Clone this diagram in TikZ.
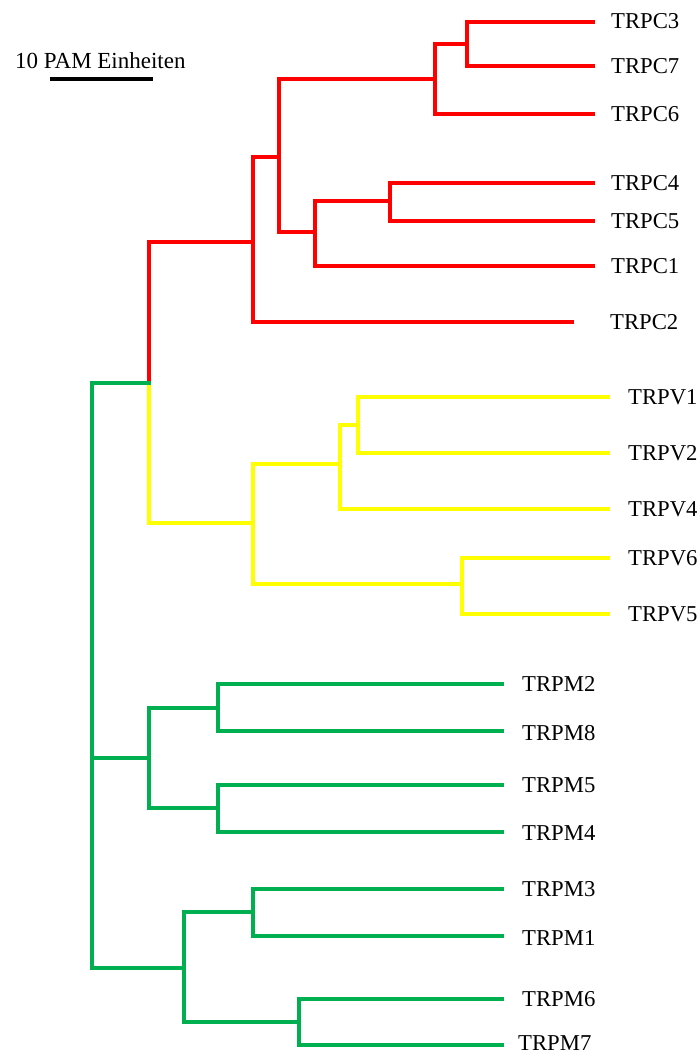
\documentclass[tikz,border=0pt]{standalone}
\usepackage{fontspec}
\setmainfont{Liberation Serif}
\definecolor{tgreen}{HTML}{00B050}
\definecolor{tred}{HTML}{FF0000}
\definecolor{tyellow}{HTML}{FFFF00}
\begin{document}
\begin{tikzpicture}[x=1pt,y=-1pt,
  br/.style={line width=4.5pt,line cap=rect,line join=miter},
  lbl/.style={anchor=west,inner sep=0pt,font=\fontsize{22.7}{25}\selectfont}]
\useasboundingbox (0,0) rectangle (699,1057);
% scale bar
\node[anchor=base west,inner sep=0pt,font=\fontsize{23}{25}\selectfont] (scl) at (15,68) {10 PAM Einheiten};
\coordinate (sa) at (50,79);
\coordinate (sb) at (153,79);
\draw[line width=4.5pt] (sa) -- (sb);
% internal nodes
\coordinate (root) at (92,675);
\coordinate (cv) at (149,383);
\coordinate (cb) at (253,242);
\coordinate (ca) at (279,157);
\coordinate (c376) at (435,79);
\coordinate (c37) at (467,44);
\coordinate (c451) at (315,232);
\coordinate (c45) at (390,201);
\coordinate (vv) at (253,523);
\coordinate (v124) at (340,464);
\coordinate (v12) at (358,425);
\coordinate (v65) at (462,584);
\coordinate (m1) at (149,758);
\coordinate (m28) at (218,708);
\coordinate (m54) at (218,808);
\coordinate (m2) at (184,968);
\coordinate (m31) at (253,912);
\coordinate (m67) at (299,1022);
% leaf ends
\coordinate (C3) at (593,22);
\coordinate (C7) at (593,66);
\coordinate (C6) at (593,114);
\coordinate (C4) at (593,183);
\coordinate (C5) at (593,221);
\coordinate (C1) at (593,266);
\coordinate (C2) at (572,322);
\coordinate (V1) at (608,397);
\coordinate (V2) at (608,453);
\coordinate (V4) at (608,509);
\coordinate (V6) at (608,558);
\coordinate (V5) at (608,614);
\coordinate (M2) at (502,684);
\coordinate (M8) at (502,731);
\coordinate (M5) at (502,785);
\coordinate (M4) at (502,832);
\coordinate (M3) at (502,889);
\coordinate (M1) at (502,936);
\coordinate (M6) at (502,999);
\coordinate (M7) at (502,1045);
% labels
\node[lbl] (lC3) at (611,21) {TRPC3};
\node[lbl] (lC7) at (611,66) {TRPC7};
\node[lbl] (lC6) at (611,114) {TRPC6};
\node[lbl] (lC4) at (611,183) {TRPC4};
\node[lbl] (lC5) at (611,221) {TRPC5};
\node[lbl] (lC1) at (611,266) {TRPC1};
\node[lbl] (lC2) at (610,322) {TRPC2};
\node[lbl] (lV1) at (628,397) {TRPV1};
\node[lbl] (lV2) at (628,453) {TRPV2};
\node[lbl] (lV4) at (628,509) {TRPV4};
\node[lbl] (lV6) at (628,558) {TRPV6};
\node[lbl] (lV5) at (628,614) {TRPV5};
\node[lbl] (lM2) at (522,684) {TRPM2};
\node[lbl] (lM8) at (522,733) {TRPM8};
\node[lbl] (lM5) at (522,785) {TRPM5};
\node[lbl] (lM4) at (522,833) {TRPM4};
\node[lbl] (lM3) at (522,889) {TRPM3};
\node[lbl] (lM1) at (522,938) {TRPM1};
\node[lbl] (lM6) at (522,999) {TRPM6};
\node[lbl] (lM7) at (518,1043) {TRPM7};
% red branches
\draw[br,tred] (cv) |- (cb);
\draw[br,tred] (cb) |- (ca);
\draw[br,tred] (cb) |- (C2);
\draw[br,tred] (ca) |- (c376);
\draw[br,tred] (ca) |- (c451);
\draw[br,tred] (c376) |- (c37);
\draw[br,tred] (c376) |- (C6);
\draw[br,tred] (c37) |- (C3);
\draw[br,tred] (c37) |- (C7);
\draw[br,tred] (c451) |- (c45);
\draw[br,tred] (c451) |- (C1);
\draw[br,tred] (c45) |- (C4);
\draw[br,tred] (c45) |- (C5);
% yellow branches
\draw[br,tyellow] (cv) |- (vv);
\draw[br,tyellow] (vv) |- (v124);
\draw[br,tyellow] (vv) |- (v65);
\draw[br,tyellow] (v124) |- (v12);
\draw[br,tyellow] (v124) |- (V4);
\draw[br,tyellow] (v12) |- (V1);
\draw[br,tyellow] (v12) |- (V2);
\draw[br,tyellow] (v65) |- (V6);
\draw[br,tyellow] (v65) |- (V5);
% green branches
\draw[br,tgreen] (root) |- (cv);
\draw[br,tgreen] (root) |- (m1);
\draw[br,tgreen] (root) |- (m2);
\draw[br,tgreen] (m1) |- (m28);
\draw[br,tgreen] (m1) |- (m54);
\draw[br,tgreen] (m28) |- (M2);
\draw[br,tgreen] (m28) |- (M8);
\draw[br,tgreen] (m54) |- (M5);
\draw[br,tgreen] (m54) |- (M4);
\draw[br,tgreen] (m2) |- (m31);
\draw[br,tgreen] (m2) |- (m67);
\draw[br,tgreen] (m31) |- (M3);
\draw[br,tgreen] (m31) |- (M1);
\draw[br,tgreen] (m67) |- (M6);
\draw[br,tgreen] (m67) |- (M7);
\end{tikzpicture}
\end{document}
